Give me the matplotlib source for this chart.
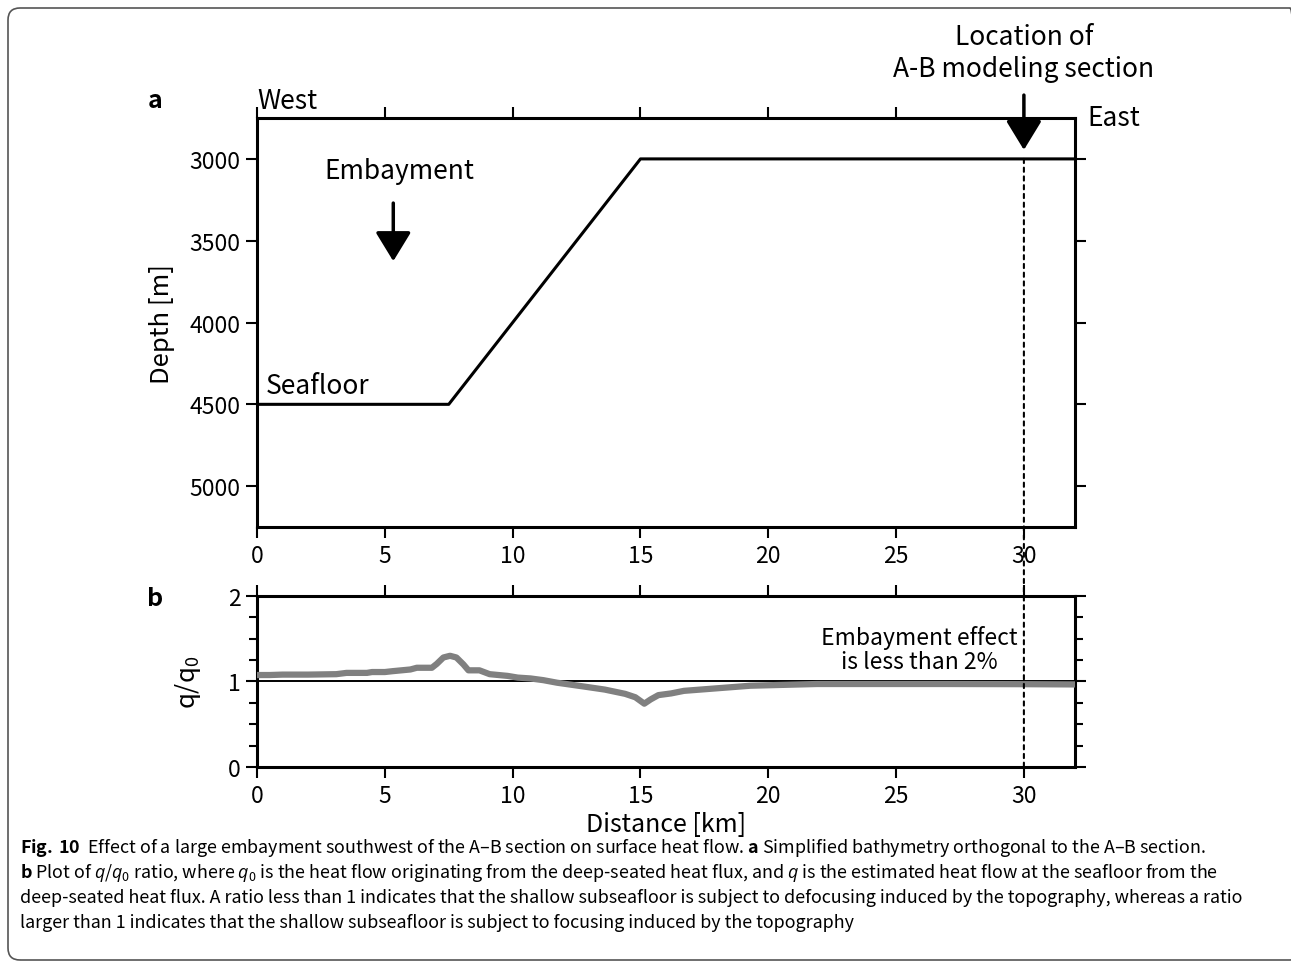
import matplotlib
matplotlib.use("Agg")
import matplotlib.pyplot as plt
from matplotlib.patches import FancyBboxPatch, ConnectionPatch
import numpy as np

plt.rcParams["font.family"] = ["Noto Sans CJK JP", "DejaVu Sans"]
plt.rcParams["mathtext.fontset"] = "custom"
plt.rcParams["mathtext.rm"] = "Noto Sans CJK JP"
plt.rcParams["mathtext.bf"] = "Noto Sans CJK JP:bold"
plt.rcParams["mathtext.it"] = "Open Sans:italic"

# simplified bathymetry (panel a)
bathy_km = [0, 7.5, 15, 32]
bathy_depth = [4500, 4500, 3000, 3000]

# heat flow ratio q/q0 (panel b)
ratio_km = [0, 0.5, 1.0, 2.0, 3.1, 3.5, 4.3, 4.5, 5.0, 5.3, 6.0, 6.25, 6.84, 7.03, 7.29,
            7.55, 7.8, 8.07, 8.27, 8.7, 9.1, 9.8, 10.2, 10.7, 11.2, 11.74, 12.8,
            13.6, 14.4, 14.8, 15.15, 15.4, 15.7, 16.2, 16.7, 18.0, 19.3, 21.9,
            24.0, 27.0, 30.0, 32.0]
ratio_q = [1.075, 1.075, 1.08, 1.08, 1.085, 1.10, 1.10, 1.11, 1.11, 1.12, 1.14, 1.16, 1.16,
           1.205, 1.28, 1.30, 1.28, 1.20, 1.13, 1.13, 1.085, 1.065, 1.045, 1.035,
           1.015, 0.985, 0.94, 0.905, 0.855, 0.815, 0.74, 0.79, 0.84, 0.86, 0.89,
           0.92, 0.95, 0.97, 0.97, 0.97, 0.968, 0.965]

xticks = [0, 5, 10, 15, 20, 25, 30]
depth_ticks = [3000, 3500, 4000, 4500, 5000]
section_km = 30

fig = plt.figure(figsize=(12.91, 9.62), dpi=100)

# rounded frame around the whole figure (pixel units)
frame = FancyBboxPatch((8, 1), 1294, 952, boxstyle="round,pad=0,rounding_size=12",
                       transform=None, fill=False, edgecolor="#555555", linewidth=1.2)
fig.add_artist(frame)

ax1 = fig.add_axes([0.1991, 0.4511, 0.6336, 0.4252])
ax2 = fig.add_axes([0.1991, 0.2017, 0.6336, 0.1778])

for ax in (ax1, ax2):
    for s in ax.spines.values():
        s.set_linewidth(2.2)
    ax.set_xlim(0, 32)
    ax.set_xticks(xticks)
    ax.tick_params(which="both", direction="out", top=True, right=True,
                   labelsize=16.5, width=1.5, pad=4)
    ax.tick_params(which="major", length=8)
    ax.tick_params(which="minor", length=6)

arrow_style = dict(arrowstyle="-|>,head_length=0.9,head_width=0.55", color="black",
                   linewidth=2.5, shrinkA=0, shrinkB=0, mutation_scale=20)

# panel a
ax1.plot(bathy_km, bathy_depth, color="black", linewidth=2.2)
ax1.set_ylim(5250, 2750)
ax1.set_yticks(depth_ticks)
ax1.set_ylabel("Depth [m]", fontsize=18.5, labelpad=10)

ax1.text(5.55, 3070, "Embayment", fontsize=19, ha="center", va="center")
ax1.annotate("", xy=(5.33, 3625), xytext=(5.33, 3270), arrowprops=arrow_style)
ax1.text(0.35, 4385, "Seafloor", fontsize=19, ha="left", va="center")
ax1.annotate("West", xy=(0, 1), xycoords="axes fraction", xytext=(0, 3),
             textcoords="offset points", fontsize=19, ha="left", va="bottom")
ax1.annotate("East", xy=(1, 1), xycoords="axes fraction", xytext=(9, 0),
             textcoords="offset points", fontsize=19, ha="left", va="center")
ax1.text(section_km, 2350, "Location of\nA-B modeling section", fontsize=19,
         ha="center", va="center", linespacing=1.2, clip_on=False)
ax1.annotate("", xy=(section_km, 2945), xytext=(section_km, 2610),
             annotation_clip=False, arrowprops=arrow_style)
ax1.text(-0.125, 1.043, "a", transform=ax1.transAxes, fontsize=18, fontweight="bold",
         ha="center", va="center")

# panel b
ax2.axhline(1, color="black", linewidth=1.4, zorder=2)
ax2.plot(ratio_km, ratio_q, color="#808080", linewidth=4.5, solid_capstyle="round",
         solid_joinstyle="round", zorder=3)
ax2.set_ylim(0, 2)
ax2.set_yticks([0, 1, 2])
ax2.set_yticks(np.arange(0, 2.01, 0.25), minor=True)
ax2.set_ylabel(r"q/q$_0$", fontsize=18.5, labelpad=18)
ax2.set_xlabel("Distance [km]", fontsize=18, labelpad=3)
ax2.text(29.75, 1.38, "Embayment effect\nis less than 2%", fontsize=16.5,
         ha="right", va="center", multialignment="center", linespacing=1.1)
ax2.text(-0.125, 0.99, "b", transform=ax2.transAxes, fontsize=18, fontweight="bold",
         ha="center", va="center")

# dotted line marking the modeling section, through both panels
con = ConnectionPatch(xyA=(section_km, 3000), coordsA=ax1.transData,
                      xyB=(section_km, 0), coordsB=ax2.transData,
                      linestyle=(0, (2, 2.2)), linewidth=1.5, color="black", zorder=5)
fig.add_artist(con)

# caption
caption = [
    r"$\mathbf{Fig.\,10}$  Effect of a large embayment southwest of the A–B section on surface heat flow. $\mathbf{a}$ Simplified bathymetry orthogonal to the A–B section.",
    r"$\mathbf{b}$ Plot of $q/q_0$ ratio, where $q_0$ is the heat flow originating from the deep-seated heat flux, and $q$ is the estimated heat flow at the seafloor from the",
    "deep-seated heat flux. A ratio less than 1 indicates that the shallow subseafloor is subject to defocusing induced by the topography, whereas a ratio",
    "larger than 1 indicates that the shallow subseafloor is subject to focusing induced by the topography",
]
for i, line in enumerate(caption):
    fig.text(20 / 1291, 1 - (848 + 25 * i) / 962, line, fontsize=12.9,
             ha="left", va="center")

fig.savefig("out.png", dpi=100)
